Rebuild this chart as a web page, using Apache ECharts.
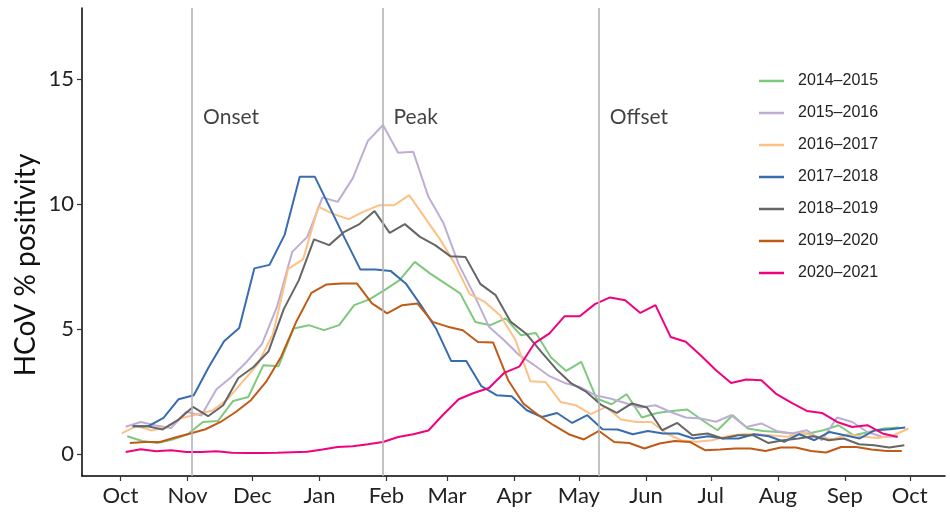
<!DOCTYPE html>
<html>
<head>
<meta charset="utf-8">
<script src="https://cdn.jsdelivr.net/npm/echarts@6/dist/echarts.min.js"></script>
<style>
html,body{margin:0;padding:0;background:#fff;}
#chart{width:950px;height:514px;}
</style>
</head>
<body>
<div id="chart"></div>
<script>
// ---- data ----
const monthTickDays = [0, 31, 61, 92, 123, 151, 182, 212, 243, 273, 304, 335, 365];
const monthLabels = ['Oct', 'Nov', 'Dec', 'Jan', 'Feb', 'Mar', 'Apr', 'May', 'Jun', 'Jul', 'Aug', 'Sep', 'Oct'];
const yTicks = [0, 5, 10, 15];
const seasons = ['2014\u20132015', '2015\u20132016', '2016\u20132017', '2017\u20132018', '2018\u20132019', '2019\u20132020', '2020\u20132021'];
// day (from Oct 1) of each season's first weekly point
const seasonStartDay = [3.1, 2.4, 0.5, 5.9, 5.5, 4.3, 2.4];
const s2014 = [0.72,0.53,0.45,0.59,0.8,1.29,1.33,2.13,2.29,3.56,3.52,5.03,5.16,4.96,5.16,5.96,6.19,6.56,6.96,7.69,7.23,6.83,6.43,5.29,5.16,5.43,4.76,4.85,3.87,3.33,3.69,2.23,2.0,2.4,1.47,1.65,1.73,1.79,1.36,0.96,1.56,1.03,0.93,0.89,0.83,0.83,0.96,1.16,0.76,0.89,1.03,1.07];
const s2015 = [1.1,1.29,1.15,1.05,1.7,1.55,2.6,3.1,3.7,4.4,5.9,8.09,8.69,10.27,10.09,11.03,12.53,13.16,12.05,12.09,10.29,9.23,7.6,6.4,5.1,4.56,3.96,3.56,3.12,2.85,2.69,2.36,2.23,2.05,1.87,1.96,1.69,1.47,1.43,1.3,1.56,1.09,1.23,0.93,0.83,0.96,0.56,1.47,1.29,0.89,0.69,0.72];
const s2016 = [0.83,1.13,0.95,1.1,1.45,1.6,1.75,2.2,2.9,3.6,4.8,7.4,7.8,9.9,9.6,9.4,9.7,9.95,9.95,10.36,9.49,8.63,7.63,6.4,6.09,5.56,4.6,2.92,2.89,2.09,1.96,1.6,1.89,1.39,1.29,1.29,0.83,0.55,0.5,0.56,0.72,0.8,0.8,0.75,0.7,0.85,0.7,0.6,0.8,0.7,0.65,0.76,1.03];
const s2017 = [1.12,1.12,1.45,2.2,2.36,3.5,4.52,5.05,7.43,7.57,8.77,11.09,11.09,9.85,8.6,7.39,7.39,7.33,6.83,5.96,5.03,3.73,3.73,2.72,2.36,2.32,1.76,1.49,1.65,1.25,1.56,1.0,0.99,0.8,0.93,0.83,0.83,0.63,0.72,0.63,0.63,0.8,0.72,0.5,0.8,0.56,0.89,0.76,0.63,0.96,1.0,1.07];
const s2018 = [1.12,1.12,0.99,1.36,1.89,1.52,1.96,3.05,3.49,4.12,5.8,6.96,8.59,8.36,8.89,9.2,9.72,8.85,9.2,8.69,8.36,7.92,7.89,6.8,6.36,5.29,4.83,4.1,3.4,2.83,2.49,1.96,1.65,2.03,1.87,0.96,1.25,0.76,0.83,0.63,0.76,0.76,0.45,0.56,0.63,0.72,0.56,0.63,0.4,0.36,0.27,0.36];
const s2019 = [0.45,0.49,0.49,0.67,0.83,1.0,1.29,1.69,2.16,2.89,3.9,5.3,6.45,6.79,6.83,6.83,6.03,5.63,5.96,6.03,5.29,5.1,4.96,4.49,4.47,2.96,2.03,1.56,1.16,0.8,0.59,0.93,0.49,0.45,0.23,0.43,0.53,0.49,0.16,0.19,0.23,0.23,0.13,0.27,0.27,0.13,0.07,0.29,0.29,0.19,0.13,0.13];
const s2020 = [0.09,0.2,0.12,0.16,0.09,0.09,0.12,0.06,0.05,0.05,0.06,0.08,0.1,0.19,0.29,0.32,0.4,0.49,0.69,0.8,0.95,1.6,2.2,2.45,2.65,3.25,3.5,4.43,4.83,5.52,5.52,6.0,6.27,6.16,5.65,5.96,4.69,4.5,3.95,3.36,2.85,2.99,2.96,2.4,2.05,1.73,1.65,1.29,1.09,1.16,0.83,0.69];
const seasonValues = [s2014, s2015, s2016, s2017, s2018, s2019, s2020];
const phaseDays = [33.1, 121.2, 221.2];
const phaseLabels = ['Onset', 'Peak', 'Offset'];
const phaseLabelY = 13.48;

// ---- styles ----
const seasonColors = ['#7fc97f', '#beaed4', '#fdc086', '#386cb0', '#666666', '#bf5b17', '#f0027f'];
const FONT = 'Lato, "Open Sans", sans-serif';

const chart = echarts.init(document.getElementById('chart'), null, {renderer: 'canvas'});

const lineSeries = seasons.map((name, si) => ({
  name: name,
  type: 'line',
  symbol: 'none',
  showSymbol: false,
  smooth: false,
  z: 3,
  lineStyle: {color: seasonColors[si], width: 2},
  itemStyle: {color: seasonColors[si]},
  emphasis: {disabled: true},
  data: seasonValues[si].map((v, i) => [seasonStartDay[si] + 7 * i, v])
}));

const option = {
  animation: false,
  backgroundColor: '#ffffff',
  grid: {left: 82, right: 5, top: 8, bottom: 38, containLabel: false, outerBoundsMode: 'none'},
  legend: {
    data: seasons,
    orient: 'vertical',
    left: 759,
    top: 73,
    padding: 0,
    icon: 'rect',
    itemWidth: 25,
    itemHeight: 2.5,
    itemGap: 16,
    selectedMode: false,
    textStyle: {fontFamily: '"Liberation Sans", Arial, sans-serif', fontSize: 16, color: '#222', lineHeight: 16, padding: [0, 0, 0, 9]}
  },
  xAxis: {
    type: 'value',
    min: -17.8,
    max: 381.3,
    splitLine: {show: false},
    axisLine: {show: true, onZero: false, lineStyle: {color: '#000', width: 1.5}},
    axisTick: {show: true, customValues: monthTickDays, length: 5, lineStyle: {color: '#333', width: 1.2}},
    axisLabel: {
      show: true,
      customValues: monthTickDays,
      formatter: (v) => monthLabels[monthTickDays.indexOf(Math.round(v))] || '',
      fontFamily: FONT, fontSize: 22, color: '#222', margin: 9
    }
  },
  yAxis: {
    type: 'value',
    min: -0.87,
    max: 17.84,
    splitLine: {show: false},
    axisLine: {show: true, onZero: false, lineStyle: {color: '#000', width: 1.5}},
    axisTick: {show: true, customValues: yTicks, length: 5, lineStyle: {color: '#333', width: 1.2}},
    axisLabel: {
      show: true,
      customValues: yTicks,
      fontFamily: FONT, fontSize: 22, color: '#222', margin: 8
    }
  },
  graphic: [{
    type: 'text',
    x: 26,
    y: 265,
    rotation: Math.PI / 2,
    style: {
      text: 'HCoV % positivity',
      font: '28px ' + FONT,
      fill: '#111',
      align: 'center',
      verticalAlign: 'middle'
    }
  }],
  series: [
    {
      name: 'phases',
      type: 'line',
      data: [],
      z: 1,
      markLine: {
        silent: true,
        symbol: ['none', 'none'],
        animation: false,
        label: {show: false},
        lineStyle: {color: '#b4b4b4', width: 1.6, type: 'solid'},
        data: phaseDays.map(d => ({xAxis: d}))
      }
    },
    {
      name: 'phaseLabels',
      type: 'scatter',
      symbolSize: 0,
      z: 4,
      silent: true,
      data: phaseDays.map((d, i) => ({value: [d, phaseLabelY], name: phaseLabels[i]})),
      label: {
        show: true,
        position: 'right',
        distance: 11,
        formatter: (p) => p.name,
        fontFamily: FONT,
        fontSize: 21,
        color: '#111'
      }
    }
  ].concat(lineSeries)
};

chart.setOption(option);
</script>
</body>
</html>
